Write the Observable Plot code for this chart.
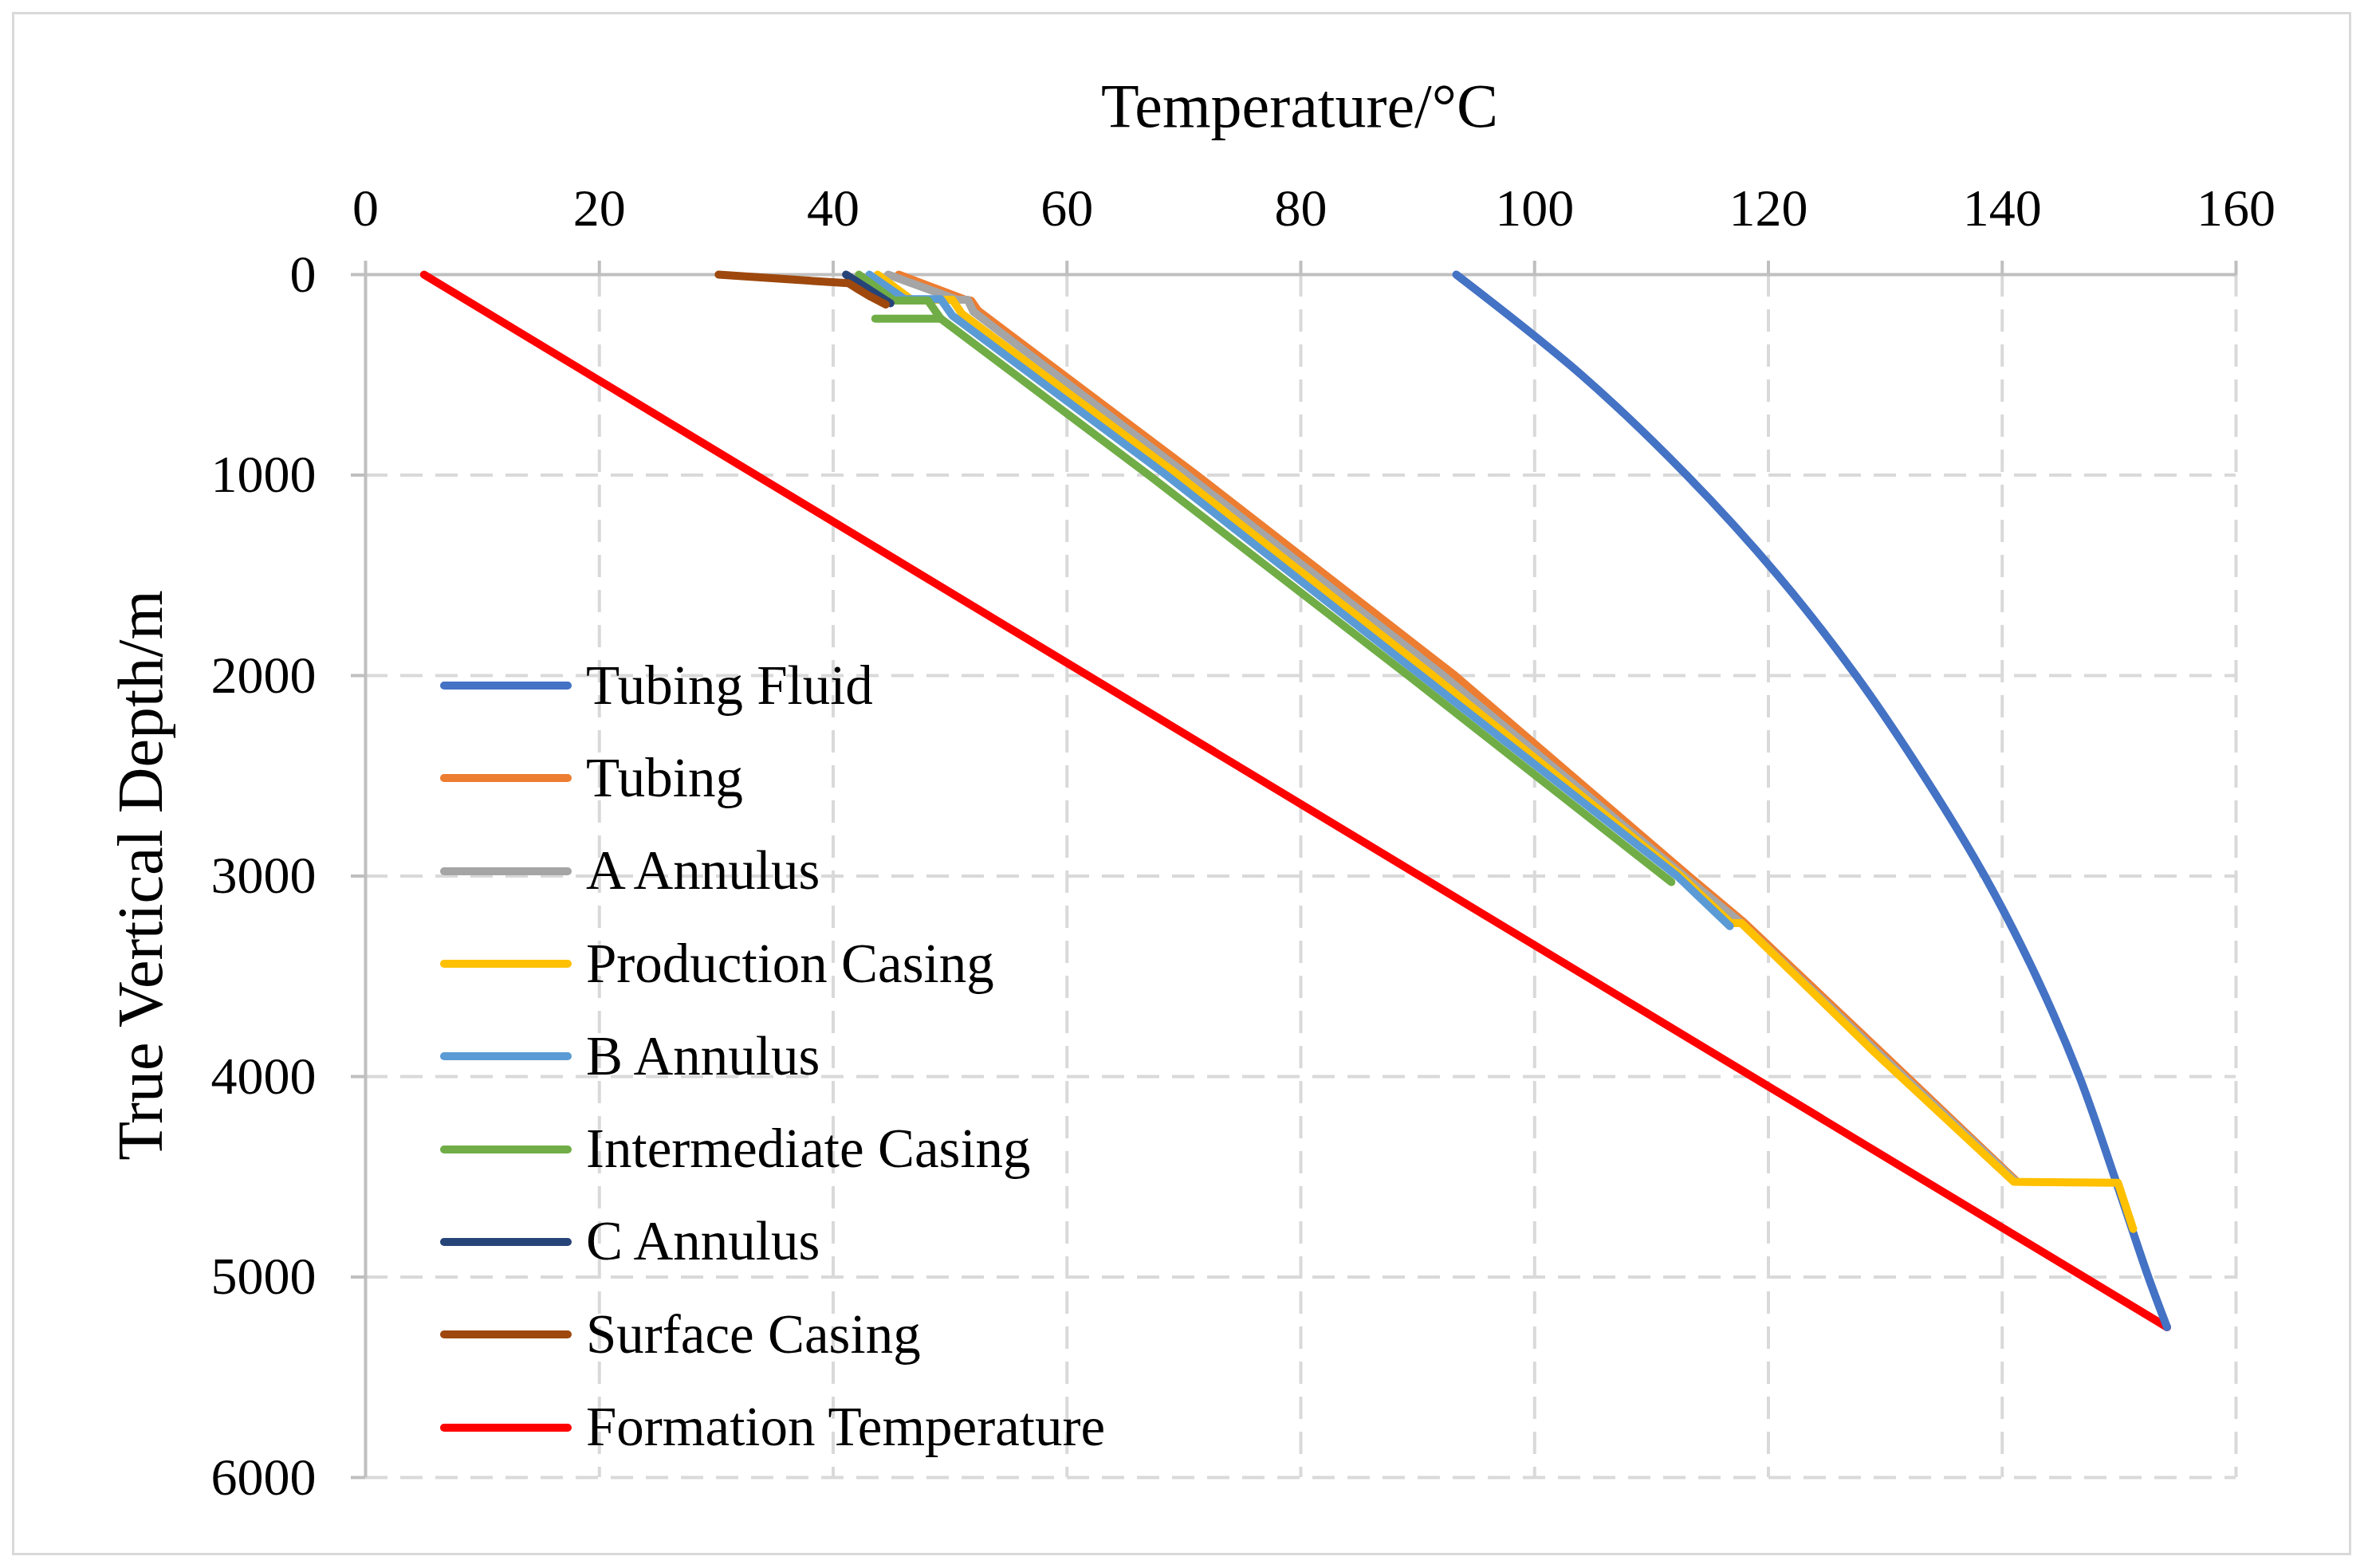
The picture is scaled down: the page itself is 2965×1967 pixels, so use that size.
<!DOCTYPE html>
<html><head><meta charset="utf-8">
<script src="https://cdn.jsdelivr.net/npm/d3@7"></script>
<script src="https://cdn.jsdelivr.net/npm/@observablehq/plot@0.6"></script>
<style>
body{margin:0;background:#fff;font-family:"Liberation Serif",serif;}
#wrap{position:relative;width:2965px;height:1967px;}
#frame{position:absolute;left:15px;top:15px;width:2928px;height:1930px;border:3px solid #d9d9d9;}
#xt{position:absolute;left:1630px;top:88px;transform:translateX(-50%);font-size:78px;white-space:nowrap;}
#yt{position:absolute;left:176px;top:1098px;font-size:80px;transform:translate(-50%,-50%) rotate(-90deg);white-space:nowrap;}
#leg{position:absolute;left:552px;top:802px;font-size:69px;}
.li{display:flex;align-items:center;height:116.3px;}
.sw{width:165px;height:10px;margin-right:18px;border-radius:5px;}
svg{position:absolute;left:0;top:0;}
</style></head><body>
<div id="wrap"><div id="frame"></div></div>
<script>
const seriesNames=["Tubing Fluid","Tubing","A Annulus","Production Casing","B Annulus","Intermediate Casing","C Annulus","Surface Casing","Formation Temperature"];
const colors=["#4472C4","#ED7D31","#A5A5A5","#FFC000","#5B9BD5","#70AD47","#264478","#9E480E","#FF0000"];
const xTicks=[0,20,40,60,80,100,120,140,160];
const yTicks=[0,1000,2000,3000,4000,5000,6000];
// [temperature °C, depth m]
const tubingFluid=[[93.3,0],[104,500],[113,1000],[120.8,1500],[127.5,2000],[133.3,2500],[138.5,3000],[142.9,3500],[146.6,4000],[149.6,4500],[152.5,5000],[154.1,5250]];
const tubing=[[45.6,0],[51.3,125],[51.8,130],[52.4,180],[71.1,1000],[93.2,2000],[113.2,3000],[117.9,3230],[129.5,3870],[141.2,4520]];
const aAnnulus=[[44.7,0],[50.6,125],[51.5,125],[52.0,185],[70.3,1000],[92.2,2000],[112.8,3000],[117.7,3235],[129.3,3875],[141.1,4520]];
const productionCasing=[[43.8,0],[46.7,125],[50.2,125],[51.0,195],[69.5,1000],[91.3,2000],[112.5,3000],[116.8,3235],[117.7,3235],[129.1,3880],[141.0,4525],[149.9,4530],[151.2,4760]];
const bAnnulus=[[43.1,0],[46.1,122],[49.2,122],[50.2,205],[68.5,1000],[90.3,2000],[112.2,3000],[116.7,3250]];
const intermediateCasing=[[42.2,0],[45.2,129],[48.1,129],[49.2,220],[67,1000],[89.2,2000],[111.7,3030]];
const intermediateCasingStub=[[43.6,220],[49.2,220]];
const cAnnulus=[[41.1,0],[44.9,143]];
const surfaceCasing=[[30.2,0],[36.1,23],[41.3,43],[42.2,75],[43.2,110],[44.5,149]];
const formation=[[5,0],[154.1,5250]];

const data=[tubingFluid,tubing,aAnnulus,productionCasing,bAnnulus,intermediateCasing,cAnnulus,surfaceCasing,formation];
const lineOpts=(c,curve)=>({x:d=>d[0],y:d=>d[1],stroke:c,strokeWidth:10,strokeLinecap:"round",strokeLinejoin:"round",curve:curve||"linear"});
const marks=[
  Plot.gridX(xTicks.slice(1),{stroke:"#d9d9d9",strokeOpacity:1,strokeWidth:4,strokeDasharray:"28,16"}),
  Plot.gridY(yTicks.slice(1),{stroke:"#d9d9d9",strokeOpacity:1,strokeWidth:4,strokeDasharray:"28,16"}),
  Plot.ruleX([0],{stroke:"#bfbfbf",strokeWidth:4}),
  Plot.ruleY([0],{stroke:"#bfbfbf",strokeWidth:4}),
  Plot.axisX(xTicks,{anchor:"top",tickSize:18,tickPadding:44,fontSize:66,stroke:"#bfbfbf",strokeWidth:4,label:null,fontFamily:"Liberation Serif"}),
  Plot.axisY(yTicks,{anchor:"left",tickSize:18,tickPadding:44,fontSize:66,stroke:"#bfbfbf",strokeWidth:4,label:null,tickFormat:d=>String(d),fontFamily:"Liberation Serif"}),
];
const order=[8,0,1,2,3,4,5,6,7];
for(const i of order){
  marks.push(Plot.line(data[i],lineOpts(colors[i],i===0?"catmull-rom":"linear")));
  if(i===5) marks.push(Plot.line(intermediateCasingStub,lineOpts(colors[5])));
}
const chart=Plot.plot({width:2965,height:1967,marginLeft:458,marginRight:161,marginTop:344,marginBottom:114,
  x:{domain:[0,160]},y:{domain:[0,6000],reverse:true},style:{fontFamily:"Liberation Serif",color:"#000",background:"transparent"},marks});
const wrap=document.getElementById("wrap");
wrap.appendChild(chart);
const xt=document.createElement("div");xt.id="xt";xt.textContent="Temperature/°C";wrap.appendChild(xt);
const yt=document.createElement("div");yt.id="yt";yt.textContent="True Vertical Depth/m";wrap.appendChild(yt);
const leg=document.createElement("div");leg.id="leg";
seriesNames.forEach((n,i)=>{const r=document.createElement("div");r.className="li";
  r.innerHTML=`<div class="sw" style="background:${colors[i]}"></div><span>${n}</span>`;leg.appendChild(r);});
wrap.appendChild(leg);
</script></body></html>
